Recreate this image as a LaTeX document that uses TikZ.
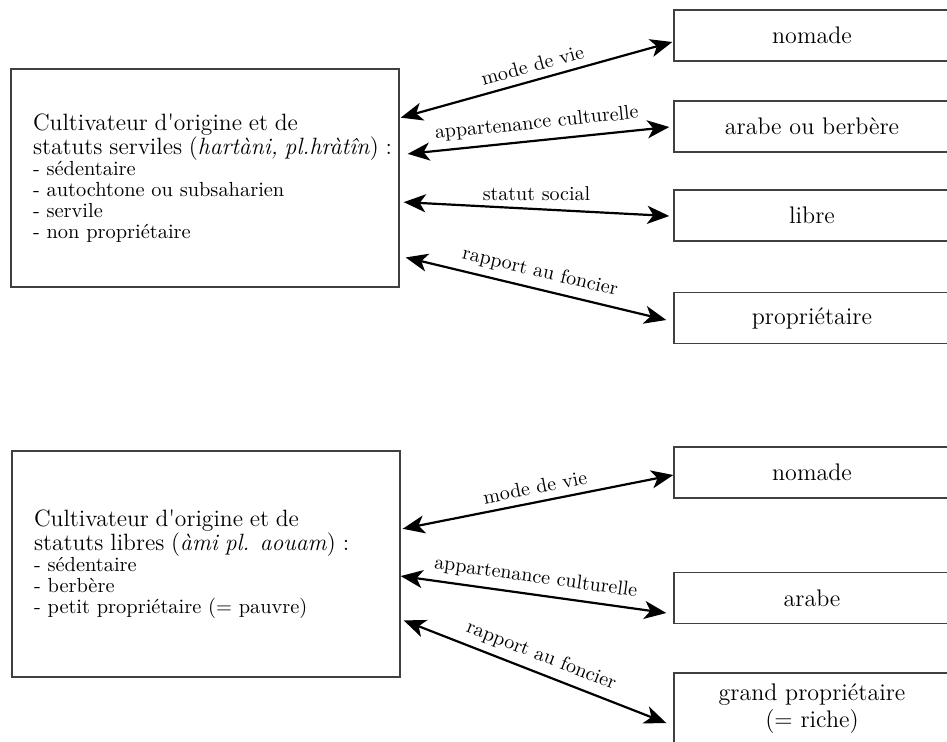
\documentclass[tikz,border=0pt]{standalone}
\usepackage{tikz}
\usetikzlibrary{arrows.meta}
\usetikzlibrary{calc}

\begin{document}
\begin{tikzpicture}[x=0.5pt,y=-0.5pt]
  \tikzset{lbox/.style = {shape=rectangle,draw=black!75,line width=0.7pt,align=left,text width=172pt,inner xsep=11pt,minimum height=109pt,font=\fontsize{10.2}{10.5}\selectfont}}
  \tikzset{rbox/.style = {shape=rectangle,draw=black!75,line width=0.7pt,align=center,minimum width=138pt,minimum height=25.5pt,font=\fontsize{12}{13.5}\selectfont}}
  \tikzset{link/.style = {{Stealth[length=11pt,width=9pt,inset=3pt]}-{Stealth[length=11pt,width=9pt,inset=3pt]},line width=1.1pt}}
  \tikzset{lab/.style = {above,sloped,inner sep=3.5pt,font=\fontsize{10}{12}\selectfont}}
  \useasboundingbox (0,0) rectangle (947,741);
  \clip (0,0) rectangle (947,741);

	% serviles
	\node[lbox] (L1) at (205,178) {\fontsize{11.8}{11}\selectfont Cultivateur d\textquotesingle origine et de\\\mbox{statuts serviles (\textit{hartàni, pl.hràtîn}) :}\par
	  \fontsize{10.2}{10.5}\selectfont - sédentaire\\- autochtone ou subsaharien\\- servile\\- non propriétaire};
	\node[rbox] (R1) at (812,35.5) {nomade};
	\node[rbox] (R2) at (812,126.5) {arabe ou berbère};
	\node[rbox] (R3) at (812,215.5) {libre};
	\node[rbox] (R4) at (812,318) {propriétaire};

	\coordinate (L1a) at ($(L1.north east)!0.225!(L1.south east)+(1,0)$);
	\coordinate (L1b) at ($(L1.north east)!0.39!(L1.south east)+(8,0)$);
	\coordinate (L1c) at ($(L1.north east)!0.61!(L1.south east)+(4,0)$);
	\coordinate (L1d) at ($(L1.north east)!0.862!(L1.south east)+(6,0)$);

       \foreach \from/\to/\dx/\dy/\lab in {L1a/R1/-0.5/-3.25/mode de vie, L1b/R2/-2/-0.25/appartenance culturelle, L1d/R4/-3.5/-1/rapport au foncier}
    \path[link] (\from) edge node[lab]{\lab} ([xshift=\dx pt,yshift=\dy pt]\to.west);
    \path[link] (L1c) edge node[above,inner sep=3.5pt,font=\fontsize{10}{12}\selectfont]{statut social} ([xshift=-2pt,yshift=-0.25pt]R3.west);

	% libres
	\node[lbox,minimum height=113pt] (L2) at (206,564) {\fontsize{11.8}{11}\selectfont Cultivateur d\textquotesingle origine et de\\statuts libres (\textit{àmi pl. aouam}) :\par
	  \fontsize{10.2}{10.5}\selectfont - sédentaire\\- berbère\\- petit propriétaire (= pauvre)};
	\node[rbox] (S1) at (812,472.5) {nomade};
	\node[rbox] (S2) at (812,598) {arabe};
	\node[rbox,minimum height=36pt] (S3) at (812,709) {grand propriétaire\\(= riche)};

	\coordinate (L2a) at ($(L2.north east)!0.345!(L2.south east)+(2,0)$);
	\coordinate (L2b) at ($(L2.north east)!0.553!(L2.south east)$);
	\coordinate (L2c) at ($(L2.north east)!0.748!(L2.south east)+(3,0)$);

       \foreach \from/\to/\dx/\dy/\lab in {L2a/S1/0/-1.25/mode de vie, L2b/S2/-3.5/-7.5/appartenance culturelle, L2c/S3/-3.5/-7/rapport au foncier}
    \path[link] (\from) edge node[lab]{\lab} ([xshift=\dx pt,yshift=\dy pt]\to.west);
\end{tikzpicture}
\end{document}
